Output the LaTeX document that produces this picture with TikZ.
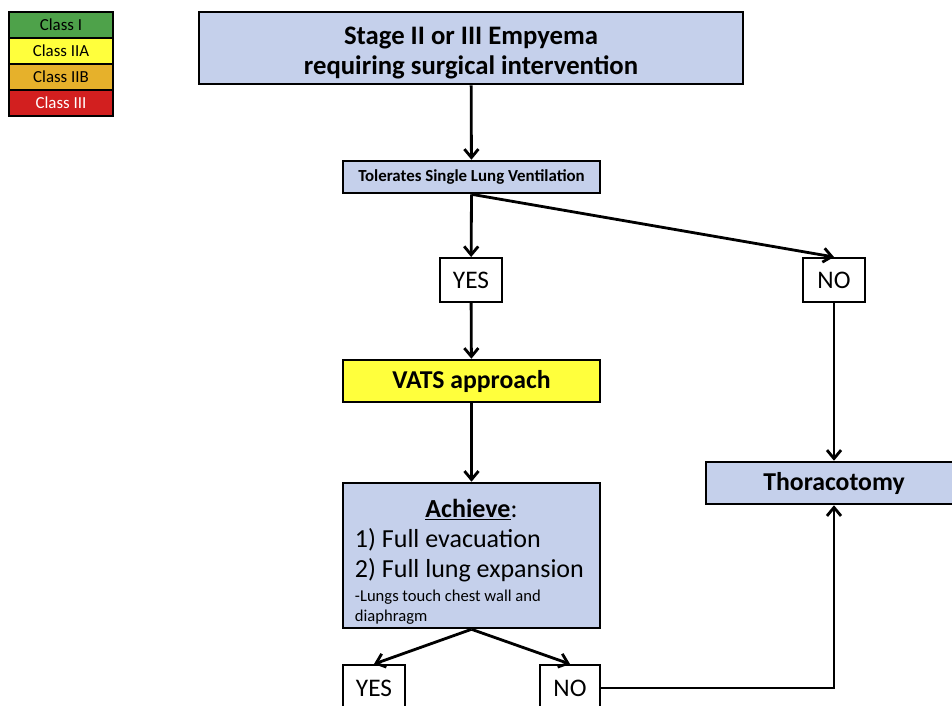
\documentclass[tikz,border=0pt]{standalone}
\usepackage{fontspec}
\setmainfont{Carlito}
\usepackage{xcolor}
\usetikzlibrary{arrows.meta}

\definecolor{boxblue}{HTML}{C5D0EB}
\definecolor{vatsyellow}{HTML}{FFFF3C}
\definecolor{clsgreen}{HTML}{4EA24A}
\definecolor{clsgold}{HTML}{E6B12B}
\definecolor{clsred}{HTML}{D21F1F}

\tikzset{
  box/.style={draw,line width=1.8pt,fill=boxblue,inner sep=2pt},
  answer/.style={draw,line width=1.4pt,fill=white,font=\fontsize{18}{20}\selectfont,
    minimum width=1.55cm,minimum height=1.1cm},
  legend/.style={draw,line width=1.4pt,minimum width=2.6cm,minimum height=0.65cm,
    font=\fontsize{12}{14}\selectfont},
  >={Straight Barb[length=6pt,width=10pt]}
}

\begin{document}
\begin{tikzpicture}[x=0.025cm,y=-0.025cm,line width=2pt]
  \clip (0,0) rectangle (952,705);

  \node (c1) [legend,fill=clsgreen] at (61,25) {Class I};
  \node (c2) [legend,fill=vatsyellow] at (61,51) {Class IIA};
  \node (c3) [legend,fill=clsgold] at (61,77) {Class IIB};
  \node (c4) [legend,fill=clsred,text=white] at (61,103) {Class III};

  \node (emp) [box,minimum width=13.6cm,minimum height=1.8cm,align=center,
    font=\bfseries\fontsize{19}{21.5}\selectfont] at (471,48)
    {\rule{0pt}{20pt}Stage II or III Empyema\\requiring surgical intervention};
  \node (tol) [box,minimum width=6.425cm,minimum height=0.8cm,
    font=\bfseries\fontsize{12}{14}\selectfont] at (471.5,177)
    {Tolerates Single Lung Ventilation};
  \node (yes1) [answer] at (471,280) {YES};
  \node (no1) [answer] at (834,280) {NO};
  \node (vats) [box,fill=vatsyellow,minimum width=6.425cm,minimum height=1.05cm,
    font=\bfseries\fontsize{18.3}{20}\selectfont] at (471.5,381) {VATS approach};
  \node (thor) [box,minimum width=6.4cm,minimum height=1.05cm,
    font=\bfseries\fontsize{18.3}{20}\selectfont] at (834,483) {Thoracotomy};
  \node (ach) [box,minimum width=6.425cm,minimum height=3.625cm,inner sep=0pt,
    font=\fontsize{18.5}{21.5}\selectfont] at (471.5,555.5)
    {\parbox{5.825cm}{\spaceskip=0pt \xspaceskip=0pt \raggedright
     \makebox[\linewidth]{\rule{0pt}{22pt}\underline{\textbf{Achieve}}:}\\
     1) Full evacuation\\
     2) Full lung expansion\\[-5pt]
     {\fontsize{11.8}{14}\selectfont -Lungs touch chest wall and}\\[-7pt]
     {\fontsize{11.8}{14}\selectfont diaphragm}\par}};
  \node (yes2) [answer,minimum height=1.15cm] at (374,688) {YES};
  \node (no2) [answer,minimum width=1.5cm,minimum height=1.15cm] at (570,688) {NO};

  \draw[->] (emp) -- (tol);
  \draw[->] (tol.south) -- (yes1);
  \draw[->] (tol.south) -- (no1.north);
  \draw[->] (yes1) -- (vats);
  \draw[->] (vats) -- (ach);
  \draw[->] (no1) -- (thor);
  \draw[->] (ach.south) -- (yes2.north);
  \draw[->] (ach.south) -- (no2.north);
  \draw[->] (no2.east) -| (thor.south);
\end{tikzpicture}
\end{document}
